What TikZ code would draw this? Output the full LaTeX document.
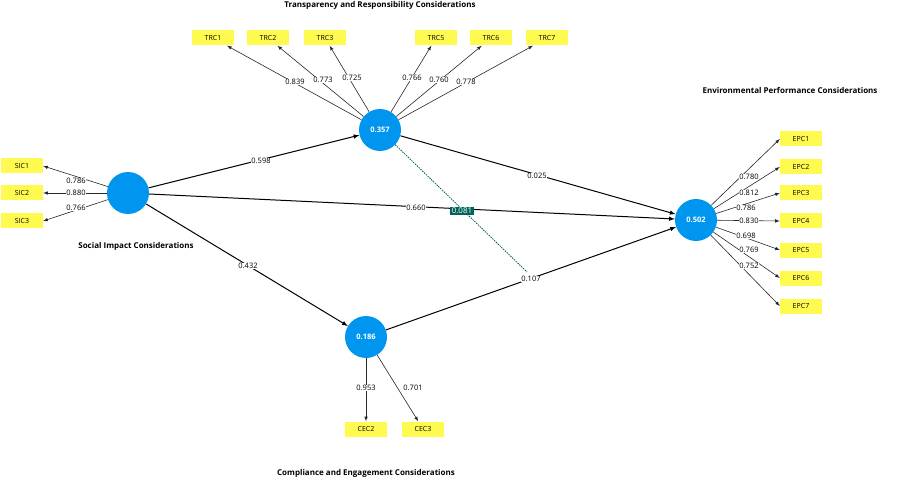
\documentclass[tikz,border=0pt]{standalone}
\usepackage{fontspec}
\setmainfont{Open Sans}
\begin{document}
\begin{tikzpicture}[x=1pt,y=-1pt,
 lv/.style={circle,fill={rgb,255:red,0;green,150;blue,240},minimum size=42pt,inner sep=0pt,text=white,font=\bfseries\fontsize{7.5}{8}\selectfont},
 ind/.style={fill={rgb,255:red,255;green,250;blue,80},minimum width=42pt,minimum height=15pt,inner sep=0pt,font=\fontsize{7}{8}\selectfont},
 lab/.style={fill=white,inner sep=0.6pt,font=\fontsize{7.5}{8}\selectfont},
 ttl/.style={font=\bfseries\fontsize{8}{9}\selectfont},
 ld/.style={-latex,line width=0.6pt,draw=black!85},
 pth/.style={-latex,line width=1pt}]
\useasboundingbox (0,0) rectangle (902,481);
\node[lv] (SIC) at (128,193) {};
\node[lv] (TRC) at (380,130) {0.357};
\node[lv] (CEC) at (366,337) {0.186};
\node[lv] (EPC) at (696,220) {0.502};
\foreach \n/\x in {1/213,2/268,3/325,5/436,6/491,7/547} \node[ind] (TRC\n) at (\x,38) {TRC\n};
\foreach \n/\y in {1/166,2/193,3/221} \node[ind] (SIC\n) at (22,\y) {SIC\n};
\foreach \n/\y in {1/139,2/167,3/193,4/221,5/250,6/278,7/306} \node[ind] (EPC\n) at (801,\y) {EPC\n};
\node[ind] (CEC2) at (366,429) {CEC2};
\node[ind] (CEC3) at (423,429) {CEC3};
\node[ttl] (t1) at (380,5) {Transparency and Responsibility Considerations};
\node[ttl] (t2) at (790,90) {Environmental Performance Considerations};
\node[ttl] (t3) at (136,246) {Social Impact Considerations};
\node[ttl] (t4) at (366,473) {Compliance and Engagement Considerations};
\foreach \n in {1,2,3,5,6,7} \draw[ld] (TRC) -- (TRC\n);
\foreach \n in {1,2,3} \draw[ld] (SIC) -- (SIC\n.east);
\foreach \n in {1,...,7} \draw[ld] (EPC) -- (EPC\n.west);
\draw[ld] (CEC) -- (CEC2);
\draw[ld] (CEC) -- (CEC3);
\coordinate (m) at (527,272);
\draw[line width=0.8pt,dash pattern=on 1.5pt off 1pt,color={rgb,255:red,0;green,90;blue,80}] (TRC) -- (m);
\draw[pth] (SIC) -- (TRC);
\draw[pth] (SIC) -- (EPC);
\draw[pth] (SIC) -- (CEC);
\draw[pth] (TRC) -- (EPC);
\draw[pth] (CEC) -- (EPC);
\foreach \t/\x/\y in {0.839/295/82,0.773/323/80,0.725/352/78,0.766/412/78,0.760/439/80,0.778/466/82,
 0.786/76/181,0.880/76/193,0.766/76/208,
 0.780/749/177,0.812/749/193,0.786/746/208,0.830/749/221,0.698/746/236,0.769/749/250,0.752/749/266,
 0.953/366/388,0.701/413/388,
 0.598/261/161,0.660/416/208,0.432/248/266,0.025/537/176,0.107/531/279}
 \node[lab] at (\x,\y) {\t};
\node[fill={rgb,255:red,0;green,100;blue,90},text=white,inner sep=1.5pt,font=\fontsize{8}{9}\selectfont] (mod) at (462,211) {0.081};
\end{tikzpicture}
\end{document}
